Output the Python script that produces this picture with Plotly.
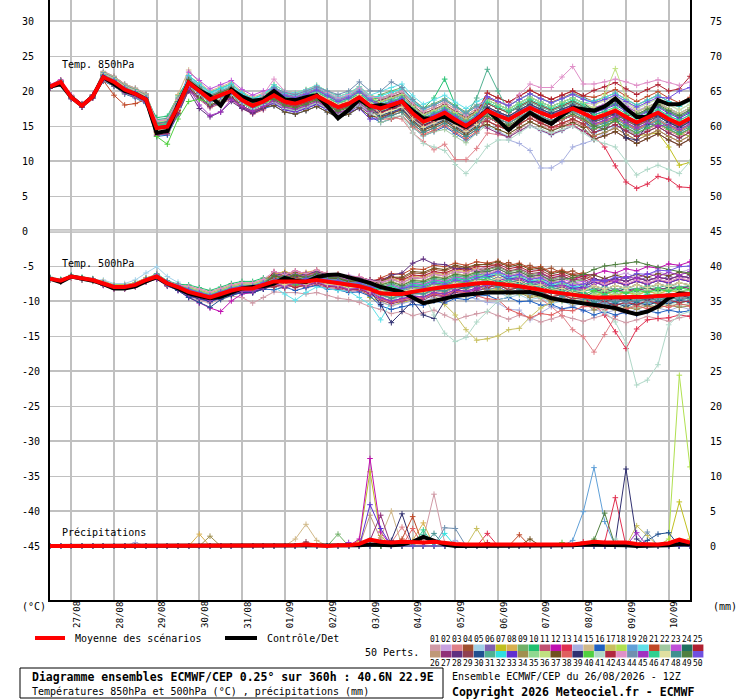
import plotly.graph_objects as go

# forecast steps, hours after 26/08 12Z
HOURS = list(range(0, 361, 6))

DAY_HOURS = [12, 36, 60, 84, 108, 132, 156, 180, 204, 228, 252, 276, 300, 324, 348]
DAY_LABELS = ["27/08", "28/08", "29/08", "30/08", "31/08", "01/09", "02/09", "03/09",
              "04/09", "05/09", "06/09", "07/09", "08/09", "09/09", "10/09"]

LEFT_TICKS = [30, 25, 20, 15, 10, 5, 0, -5, -10, -15, -20, -25, -30, -35, -40, -45]
RIGHT_LABELS = ["75", "70", "65", "60", "55", "50", "45", "40", "35", "30",
                "25", "20", "15", "10", "5", "0"]

PERT_COLORS = [
    "#d09aa6", "#c8a0e0", "#e08088", "#a05030", "#a0d0e8", "#8060b0", "#c0c020", "#d8b050",
    "#70b068", "#20c070", "#c05070", "#c010b0", "#e03050", "#a8b0e0", "#d0b888", "#2060c0",
    "#c8c060", "#b0e050", "#60a0d8", "#60e0e8", "#c04828", "#a0c8a0", "#c050d8", "#207060",
    "#b02030", "#c09878", "#903078", "#603080", "#904050", "#205090", "#50b090", "#30e0e0",
    "#6030d0", "#a09050", "#90d890", "#c0e080", "#705020", "#e06060", "#303070", "#50d040",
    "#b0d8c8", "#b02840", "#e090c8", "#7090b0", "#a030c0", "#30d090", "#e0e0a0", "#409090",
    "#508040", "#7050e0",
]

# all values below in tenths (degC for temperatures, mm for precipitation)
T850_MEAN = [206, 213, 191, 179, 192, 220, 213, 202, 196, 188, 147, 149, 178, 212, 200, 188, 194, 200, 187, 179, 185,
             194, 185, 182, 187, 193, 185, 177, 182, 191, 179, 175, 180, 185, 168, 156, 162, 169, 159, 150, 160,
             172, 165, 159, 168, 176, 169, 163, 169, 175, 168, 161, 166, 172, 163, 155, 162, 169, 160, 153, 161]
T850_CTL = [206, 210, 191, 179, 192, 220, 210, 200, 196, 188, 140, 143, 180, 212, 201, 193, 179, 202, 192, 186, 188,
            200, 188, 187, 191, 194, 178, 161, 173, 188, 178, 180, 178, 185, 172, 161, 160, 163, 155, 149, 160,
            173, 158, 144, 157, 169, 160, 153, 165, 176, 174, 172, 178, 189, 175, 163, 163, 187, 181, 181, 188]

T500_MEAN = [-68, -71, -65, -68, -70, -75, -80, -80, -77, -70, -65, -75, -80, -87, -91, -95, -90, -85, -82, -82, -77,
             -72, -72, -72, -72, -70, -72, -75, -76, -79, -83, -89, -90, -90, -87, -84, -82, -80, -78, -76, -75,
             -74, -75, -77, -79, -81, -84, -87, -89, -90, -93, -95, -95, -95, -95, -95, -94, -93, -92, -91, -90]
T500_CTL = [-68, -73, -65, -68, -71, -76, -82, -82, -79, -72, -66, -75, -82, -89, -93, -96, -94, -88, -82, -80, -79,
            -75, -67, -71, -73, -66, -63, -62, -66, -70, -74, -80, -84, -87, -95, -103, -100, -96, -93, -91, -89,
            -88, -88, -88, -87, -87, -91, -96, -99, -101, -103, -105, -107, -110, -115, -119, -115, -108, -96, -89, -90]

RR_MEAN = [0, 0, 0, 0, 0, 0, 0, 0, 0, 1, 1, 0, 0, 0, 1, 1, 0, 0, 0, 0, 0,
           1, 0, 1, 2, 1, 0, 1, 1, 3, 9, 6, 5, 6, 5, 5, 6, 4, 3, 2, 2,
           2, 1, 1, 2, 1, 1, 1, 1, 2, 4, 6, 5, 5, 5, 3, 2, 2, 4, 9, 5]
RR_CTL = [0, 0, 0, 0, 0, 0, 0, 0, 0, 0, 0, 0, 0, 0, 0, 0, 0, 0, 0, 0, 0,
          0, 0, 0, 0, 0, 0, 0, 0, 1, 2, 1, 1, 2, 6, 13, 8, 2, 0, 0, 0,
          0, 0, 0, 0, 0, 0, 0, 0, 1, 2, 2, 1, 1, 1, 0, 0, 0, 1, 3, 2]

T850_PERTS = [
    [208, 215, 193, 181, 194, 224, 218, 208, 202, 194, 148, 154, 188, 205, 192, 180, 186, 192, 178, 170, 176, 185, 176, 173, 179, 186, 179, 172, 178, 187, 175, 163, 166, 170, 152, 141, 148, 157, 150, 142, 153, 167, 162, 157, 167, 177, 171, 166, 174, 181, 175, 169, 175, 182, 174, 166, 174, 182, 174, 168, 176],
    [205, 212, 190, 178, 191, 217, 210, 199, 193, 185, 155, 157, 186, 222, 210, 198, 204, 210, 197, 189, 195, 199, 191, 189, 195, 202, 195, 188, 194, 204, 193, 188, 194, 200, 184, 173, 180, 188, 178, 170, 180, 187, 180, 174, 183, 191, 184, 178, 184, 190, 183, 181, 186, 191, 181, 172, 178, 184, 174, 166, 173],
    [206, 213, 191, 179, 192, 218, 211, 200, 194, 186, 142, 146, 170, 206, 195, 183, 189, 195, 182, 174, 180, 186, 178, 175, 180, 185, 176, 168, 172, 180, 166, 160, 162, 160, 140, 128, 116, 124, 102, 102, 118, 140, 138, 135, 146, 156, 150, 145, 151, 158, 150, 145, 150, 156, 147, 138, 145, 152, 143, 136, 144],
    [207, 214, 192, 180, 193, 215, 207, 196, 191, 183, 144, 146, 175, 215, 203, 191, 197, 203, 190, 182, 188, 204, 195, 192, 197, 203, 195, 187, 192, 201, 189, 180, 185, 190, 173, 161, 167, 174, 166, 158, 170, 190, 184, 179, 188, 196, 189, 184, 190, 197, 191, 185, 191, 197, 188, 180, 187, 194, 185, 178, 186],
    [204, 211, 189, 177, 190, 226, 219, 208, 202, 194, 159, 161, 190, 220, 208, 196, 202, 208, 195, 187, 193, 191, 182, 179, 184, 190, 182, 174, 179, 188, 176, 165, 170, 175, 158, 146, 152, 158, 146, 136, 146, 150, 142, 135, 143, 150, 143, 137, 143, 150, 143, 140, 145, 151, 143, 135, 142, 149, 140, 133, 141],
    [208, 215, 193, 181, 194, 228, 221, 210, 204, 196, 150, 152, 181, 204, 192, 180, 186, 192, 179, 171, 177, 182, 173, 170, 175, 181, 173, 165, 170, 179, 167, 170, 175, 180, 163, 151, 157, 164, 155, 146, 156, 177, 170, 164, 173, 181, 174, 168, 174, 180, 173, 156, 161, 167, 158, 150, 157, 164, 155, 148, 156],
    [206, 213, 191, 179, 192, 220, 213, 202, 196, 188, 139, 141, 170, 217, 205, 193, 199, 205, 192, 184, 190, 209, 200, 197, 202, 208, 200, 192, 197, 206, 194, 190, 195, 200, 183, 171, 177, 184, 174, 165, 175, 177, 170, 164, 173, 181, 174, 168, 174, 180, 173, 152, 155, 158, 146, 136, 138, 140, 120, 94, 98],
    [207, 214, 192, 180, 193, 225, 218, 207, 201, 193, 157, 159, 188, 215, 203, 191, 197, 203, 190, 182, 188, 189, 180, 177, 182, 188, 180, 172, 177, 186, 174, 165, 170, 175, 158, 146, 152, 159, 149, 140, 150, 182, 175, 169, 178, 186, 179, 173, 179, 185, 178, 163, 169, 175, 165, 156, 164, 172, 163, 155, 164],
    [205, 212, 190, 178, 191, 218, 211, 200, 194, 186, 152, 154, 183, 222, 210, 198, 204, 210, 197, 189, 195, 199, 190, 187, 192, 198, 190, 182, 187, 196, 184, 195, 200, 205, 188, 176, 182, 189, 179, 170, 180, 182, 175, 169, 178, 186, 179, 173, 179, 185, 178, 176, 181, 187, 178, 170, 177, 184, 175, 168, 176],
    [208, 215, 193, 181, 194, 220, 213, 202, 196, 188, 162, 164, 193, 217, 205, 193, 199, 205, 192, 184, 190, 204, 195, 192, 197, 203, 195, 187, 192, 201, 189, 190, 195, 200, 183, 175, 190, 217, 180, 165, 170, 162, 155, 149, 158, 166, 159, 153, 159, 165, 158, 156, 161, 167, 158, 150, 157, 164, 155, 148, 156],
    [204, 211, 189, 177, 190, 216, 209, 198, 192, 184, 137, 139, 168, 200, 188, 176, 182, 188, 175, 167, 173, 191, 182, 179, 184, 190, 182, 174, 179, 188, 176, 180, 185, 190, 173, 161, 167, 174, 164, 155, 165, 157, 150, 144, 153, 161, 154, 148, 154, 160, 153, 136, 141, 147, 138, 130, 137, 144, 135, 128, 136],
    [209, 216, 194, 182, 195, 223, 216, 205, 199, 191, 152, 154, 183, 212, 200, 188, 194, 200, 187, 179, 185, 189, 180, 177, 182, 188, 180, 172, 177, 184, 165, 160, 165, 170, 153, 141, 147, 154, 144, 135, 145, 177, 170, 164, 173, 181, 174, 168, 174, 180, 173, 171, 176, 182, 173, 165, 172, 179, 170, 163, 171],
    [206, 213, 191, 179, 192, 222, 215, 204, 198, 190, 142, 144, 173, 217, 205, 193, 199, 205, 192, 184, 190, 194, 185, 182, 187, 193, 185, 177, 182, 191, 179, 180, 185, 190, 173, 161, 167, 174, 164, 155, 165, 167, 160, 154, 163, 166, 155, 148, 150, 152, 142, 135, 120, 93, 70, 61, 67, 78, 74, 63, 62],
    [205, 212, 190, 178, 191, 219, 212, 201, 195, 187, 150, 152, 181, 209, 197, 185, 191, 197, 184, 176, 182, 199, 190, 187, 192, 198, 190, 182, 187, 196, 184, 170, 175, 180, 163, 151, 157, 164, 154, 145, 155, 160, 145, 130, 125, 115, 90, 90, 99, 120, 125, 130, 140, 150, 145, 138, 146, 154, 146, 139, 147],
    [208, 215, 193, 181, 194, 228, 221, 210, 204, 196, 157, 159, 195, 230, 212, 200, 206, 212, 199, 191, 197, 202, 193, 190, 195, 201, 193, 185, 190, 199, 187, 175, 180, 185, 168, 156, 162, 169, 159, 150, 160, 192, 185, 179, 188, 196, 189, 183, 189, 195, 188, 186, 191, 197, 188, 180, 187, 194, 185, 178, 186],
    [204, 211, 189, 177, 190, 214, 207, 196, 190, 182, 135, 137, 166, 202, 190, 178, 184, 190, 177, 169, 175, 179, 170, 167, 172, 178, 170, 162, 167, 176, 164, 155, 160, 165, 148, 136, 142, 149, 139, 130, 140, 162, 155, 149, 158, 166, 159, 153, 159, 165, 158, 141, 146, 152, 143, 135, 142, 149, 140, 133, 141],
    [207, 214, 192, 180, 193, 221, 214, 203, 197, 189, 147, 149, 178, 217, 205, 193, 199, 205, 192, 184, 190, 189, 180, 177, 182, 188, 180, 172, 177, 186, 174, 160, 165, 170, 153, 141, 147, 154, 144, 135, 145, 157, 150, 144, 153, 161, 154, 148, 154, 160, 153, 158, 164, 171, 160, 150, 158, 167, 157, 148, 156],
    [206, 213, 191, 179, 192, 223, 216, 205, 199, 191, 155, 157, 186, 209, 197, 185, 191, 197, 184, 176, 182, 206, 197, 194, 199, 205, 197, 189, 194, 203, 191, 185, 190, 195, 178, 166, 172, 179, 169, 160, 170, 187, 180, 174, 183, 191, 184, 178, 184, 190, 183, 171, 176, 182, 173, 165, 172, 179, 170, 140, 135],
    [205, 212, 190, 178, 191, 222, 215, 204, 198, 190, 144, 146, 175, 212, 200, 188, 194, 200, 187, 179, 185, 197, 188, 185, 190, 196, 188, 180, 185, 194, 182, 183, 188, 193, 176, 164, 170, 177, 167, 158, 168, 172, 165, 159, 168, 176, 169, 163, 169, 175, 160, 140, 150, 165, 160, 155, 164, 172, 164, 158, 166],
    [207, 214, 192, 180, 193, 217, 210, 199, 193, 185, 153, 155, 184, 220, 208, 196, 202, 208, 195, 187, 195, 209, 200, 197, 202, 208, 200, 192, 197, 206, 194, 200, 205, 210, 193, 181, 187, 194, 184, 175, 185, 192, 185, 179, 188, 196, 189, 183, 189, 196, 190, 183, 188, 193, 183, 175, 182, 189, 180, 173, 181],
    [206, 213, 191, 179, 192, 215, 194, 180, 182, 188, 142, 144, 173, 207, 195, 183, 189, 195, 182, 174, 180, 194, 185, 182, 187, 193, 185, 177, 182, 191, 179, 185, 190, 195, 178, 166, 172, 179, 169, 160, 170, 197, 190, 184, 193, 201, 194, 188, 194, 200, 193, 191, 196, 202, 193, 185, 192, 199, 190, 183, 191],
    [204, 211, 189, 177, 190, 215, 208, 197, 191, 183, 144, 146, 175, 207, 195, 183, 189, 195, 182, 174, 180, 184, 175, 172, 177, 183, 175, 167, 172, 181, 169, 155, 160, 165, 148, 136, 142, 145, 135, 126, 140, 152, 145, 139, 148, 156, 149, 143, 149, 155, 148, 151, 156, 162, 153, 145, 152, 159, 150, 143, 151],
    [207, 214, 192, 180, 193, 226, 219, 208, 202, 194, 147, 149, 178, 227, 215, 203, 209, 215, 202, 194, 200, 204, 195, 192, 197, 203, 195, 187, 192, 201, 189, 180, 185, 190, 173, 161, 167, 174, 164, 155, 165, 177, 170, 164, 173, 181, 174, 168, 174, 180, 173, 176, 181, 187, 178, 170, 177, 184, 175, 168, 176],
    [206, 213, 191, 179, 192, 216, 209, 198, 192, 184, 149, 151, 180, 207, 195, 183, 189, 195, 182, 174, 180, 199, 190, 187, 192, 198, 190, 182, 187, 196, 184, 170, 175, 180, 163, 151, 157, 164, 154, 145, 155, 187, 180, 174, 183, 191, 184, 178, 184, 190, 183, 171, 176, 182, 173, 165, 172, 179, 170, 163, 171],
    [208, 215, 193, 181, 194, 220, 213, 202, 196, 188, 145, 147, 176, 215, 203, 191, 197, 203, 190, 182, 188, 189, 180, 177, 182, 188, 180, 172, 177, 186, 174, 185, 190, 195, 178, 166, 172, 179, 169, 160, 170, 197, 190, 184, 193, 201, 194, 188, 194, 200, 193, 201, 206, 212, 203, 195, 202, 209, 200, 203, 221],
    [205, 212, 190, 178, 191, 224, 217, 206, 200, 192, 141, 143, 172, 210, 198, 186, 192, 198, 185, 177, 183, 186, 177, 174, 179, 185, 177, 169, 174, 183, 171, 163, 168, 173, 156, 144, 150, 157, 147, 138, 148, 167, 160, 154, 163, 171, 164, 158, 164, 170, 163, 151, 156, 162, 153, 145, 152, 159, 150, 143, 151],
    [207, 214, 192, 180, 193, 222, 215, 204, 198, 190, 137, 139, 168, 202, 190, 178, 184, 190, 177, 169, 175, 189, 180, 177, 182, 188, 180, 172, 177, 186, 174, 175, 180, 185, 168, 156, 162, 169, 159, 150, 160, 147, 140, 134, 143, 151, 144, 138, 144, 150, 143, 131, 136, 142, 133, 125, 132, 139, 130, 123, 131],
    [205, 212, 190, 178, 191, 221, 214, 203, 197, 189, 151, 153, 182, 200, 175, 163, 170, 185, 175, 168, 175, 184, 175, 172, 177, 183, 175, 167, 172, 181, 169, 170, 175, 180, 163, 151, 157, 164, 154, 145, 155, 162, 155, 149, 158, 166, 159, 153, 159, 165, 158, 146, 151, 157, 148, 140, 147, 154, 145, 138, 146],
    [207, 214, 192, 180, 193, 223, 216, 205, 199, 191, 148, 150, 179, 214, 202, 190, 196, 202, 189, 181, 187, 197, 188, 185, 190, 196, 188, 180, 185, 194, 182, 187, 192, 197, 180, 168, 174, 181, 171, 162, 172, 182, 175, 169, 178, 186, 179, 173, 179, 185, 178, 156, 161, 167, 158, 150, 157, 164, 155, 148, 156],
    [205, 212, 190, 178, 191, 217, 210, 199, 193, 185, 150, 152, 181, 214, 202, 190, 196, 202, 189, 181, 187, 192, 183, 180, 185, 191, 183, 175, 180, 189, 177, 165, 170, 175, 158, 146, 152, 159, 149, 140, 150, 167, 160, 154, 163, 171, 164, 158, 164, 170, 163, 158, 163, 169, 160, 152, 159, 166, 157, 150, 158],
    [208, 215, 193, 181, 194, 226, 219, 208, 202, 194, 159, 161, 190, 218, 206, 194, 200, 206, 193, 185, 191, 202, 193, 190, 195, 201, 193, 185, 190, 199, 187, 185, 190, 195, 178, 166, 172, 179, 169, 165, 190, 231, 200, 170, 176, 184, 177, 171, 177, 183, 176, 171, 176, 182, 173, 165, 172, 179, 170, 163, 171],
    [206, 213, 191, 179, 192, 222, 215, 204, 198, 190, 152, 154, 183, 222, 210, 198, 204, 210, 197, 189, 195, 206, 197, 194, 199, 205, 197, 189, 194, 203, 191, 193, 198, 203, 186, 174, 180, 187, 177, 168, 178, 187, 180, 174, 183, 191, 184, 178, 184, 190, 183, 186, 191, 197, 188, 180, 187, 194, 185, 178, 186],
    [204, 211, 189, 177, 190, 217, 210, 199, 193, 185, 144, 146, 175, 209, 197, 185, 191, 197, 184, 176, 182, 182, 173, 170, 175, 181, 173, 165, 170, 175, 160, 160, 168, 175, 160, 148, 154, 161, 151, 142, 152, 175, 168, 162, 171, 179, 172, 166, 172, 178, 171, 169, 174, 180, 171, 163, 170, 177, 168, 161, 169],
    [207, 214, 192, 180, 193, 219, 212, 201, 195, 187, 151, 153, 182, 208, 196, 184, 190, 196, 183, 175, 181, 196, 187, 184, 189, 195, 187, 179, 184, 193, 181, 172, 177, 182, 165, 153, 159, 166, 156, 147, 157, 157, 150, 144, 153, 161, 154, 148, 154, 160, 153, 136, 141, 147, 138, 130, 137, 144, 135, 128, 136],
    [205, 212, 190, 178, 191, 221, 214, 203, 197, 189, 145, 147, 176, 218, 206, 194, 200, 206, 193, 185, 191, 200, 191, 188, 193, 199, 191, 183, 188, 197, 185, 173, 178, 183, 166, 154, 160, 167, 157, 148, 158, 177, 170, 164, 173, 181, 174, 168, 174, 180, 173, 151, 156, 162, 153, 145, 152, 159, 150, 143, 151],
    [207, 214, 192, 180, 193, 225, 218, 207, 201, 193, 155, 157, 186, 215, 203, 191, 197, 203, 190, 182, 188, 189, 180, 177, 182, 188, 180, 172, 177, 186, 174, 185, 190, 195, 178, 166, 172, 179, 169, 160, 170, 187, 180, 174, 183, 191, 184, 178, 184, 190, 183, 176, 195, 232, 190, 170, 177, 184, 175, 168, 176],
    [206, 213, 191, 179, 192, 218, 211, 200, 194, 186, 142, 144, 173, 204, 192, 180, 186, 192, 179, 171, 177, 179, 170, 167, 172, 178, 170, 162, 167, 176, 164, 163, 168, 173, 156, 144, 150, 157, 147, 138, 148, 152, 145, 139, 148, 156, 149, 143, 149, 155, 148, 131, 136, 142, 133, 125, 132, 139, 130, 123, 131],
    [207, 214, 192, 180, 193, 222, 215, 204, 198, 190, 153, 155, 184, 213, 201, 189, 195, 201, 188, 180, 186, 195, 186, 183, 188, 194, 186, 178, 183, 192, 178, 160, 160, 165, 150, 138, 144, 151, 141, 132, 142, 162, 155, 149, 158, 166, 159, 153, 159, 165, 158, 151, 156, 162, 153, 145, 152, 159, 150, 143, 151],
    [205, 212, 190, 178, 191, 218, 211, 200, 194, 186, 149, 151, 180, 207, 195, 183, 189, 195, 182, 174, 180, 194, 185, 182, 187, 193, 185, 177, 182, 191, 179, 170, 175, 175, 160, 151, 157, 164, 154, 145, 155, 177, 170, 164, 173, 181, 174, 168, 174, 180, 173, 166, 171, 165, 133, 130, 152, 164, 155, 148, 156],
    [206, 213, 191, 179, 192, 217, 210, 199, 193, 185, 135, 124, 160, 185, 188, 183, 190, 196, 183, 175, 181, 189, 180, 177, 182, 188, 180, 172, 177, 186, 174, 180, 185, 190, 173, 161, 167, 174, 164, 155, 165, 167, 160, 154, 163, 171, 164, 158, 164, 170, 163, 146, 151, 157, 148, 140, 147, 154, 145, 138, 146],
    [207, 214, 192, 180, 193, 221, 214, 203, 197, 189, 144, 146, 175, 207, 195, 183, 189, 195, 182, 174, 180, 184, 175, 172, 177, 183, 175, 167, 172, 181, 169, 160, 163, 165, 140, 125, 120, 115, 95, 82, 100, 121, 130, 130, 140, 150, 145, 140, 145, 150, 140, 130, 125, 120, 100, 80, 88, 94, 88, 82, 99],
    [204, 211, 189, 177, 190, 217, 210, 199, 193, 185, 141, 143, 172, 216, 204, 192, 198, 204, 191, 183, 189, 190, 181, 178, 183, 189, 181, 173, 178, 187, 175, 169, 174, 179, 162, 150, 156, 163, 153, 144, 154, 157, 150, 144, 153, 161, 154, 148, 154, 160, 153, 141, 146, 152, 143, 135, 142, 149, 140, 133, 141],
    [208, 215, 193, 181, 194, 224, 217, 206, 200, 192, 157, 159, 188, 214, 202, 190, 196, 202, 189, 181, 195, 217, 200, 195, 200, 206, 198, 190, 195, 204, 192, 190, 195, 200, 183, 171, 177, 184, 174, 165, 175, 192, 185, 180, 195, 210, 205, 205, 220, 235, 210, 210, 213, 217, 213, 208, 212, 216, 212, 208, 213],
    [206, 213, 191, 179, 192, 222, 215, 204, 198, 190, 150, 152, 181, 218, 206, 194, 200, 206, 193, 185, 191, 205, 198, 195, 200, 206, 200, 195, 200, 213, 200, 200, 213, 205, 188, 175, 180, 187, 177, 168, 178, 167, 160, 154, 163, 171, 164, 158, 164, 170, 163, 153, 158, 164, 155, 147, 154, 161, 152, 145, 153],
    [207, 214, 192, 180, 193, 216, 209, 198, 192, 184, 148, 150, 179, 205, 180, 165, 170, 188, 178, 171, 178, 186, 177, 174, 179, 185, 177, 169, 174, 183, 171, 178, 183, 188, 171, 159, 165, 172, 162, 153, 163, 172, 165, 159, 168, 176, 169, 163, 169, 175, 168, 153, 158, 164, 155, 147, 154, 150, 152, 145, 153],
    [206, 213, 191, 179, 192, 223, 216, 205, 199, 191, 151, 153, 182, 213, 201, 189, 195, 201, 188, 180, 186, 200, 191, 188, 193, 199, 191, 183, 188, 197, 185, 181, 186, 191, 174, 162, 168, 175, 165, 156, 166, 184, 177, 171, 180, 188, 181, 175, 181, 187, 180, 166, 171, 177, 168, 160, 167, 174, 165, 158, 166],
    [205, 212, 190, 178, 191, 219, 212, 201, 195, 187, 143, 145, 174, 211, 199, 187, 193, 199, 186, 178, 184, 198, 189, 186, 191, 197, 189, 181, 186, 195, 183, 167, 172, 177, 160, 148, 154, 161, 151, 142, 152, 164, 157, 151, 160, 168, 161, 155, 161, 167, 160, 181, 186, 192, 183, 175, 182, 189, 180, 173, 181],
    [207, 214, 192, 180, 193, 219, 212, 201, 195, 187, 154, 156, 185, 210, 198, 186, 192, 198, 185, 177, 183, 192, 183, 180, 185, 191, 183, 175, 180, 189, 177, 160, 165, 170, 153, 141, 147, 154, 144, 135, 145, 174, 167, 161, 170, 178, 171, 165, 171, 177, 170, 149, 154, 160, 151, 143, 150, 157, 148, 141, 149],
    [206, 213, 191, 179, 192, 220, 213, 202, 196, 188, 146, 148, 177, 216, 204, 192, 198, 204, 191, 183, 189, 188, 179, 176, 181, 187, 179, 171, 176, 185, 173, 177, 182, 187, 170, 158, 164, 171, 161, 152, 162, 164, 157, 151, 160, 168, 161, 155, 161, 167, 160, 150, 145, 160, 165, 167, 174, 181, 172, 165, 173],
    [205, 212, 190, 178, 191, 222, 215, 204, 198, 190, 146, 148, 177, 210, 198, 186, 192, 198, 185, 177, 183, 202, 193, 190, 195, 201, 193, 185, 190, 199, 187, 179, 184, 189, 172, 160, 166, 173, 163, 154, 164, 192, 185, 179, 188, 196, 189, 183, 189, 195, 188, 183, 188, 194, 185, 177, 184, 191, 190, 200, 205],
]

T500_PERTS = [
    [-68, -71, -65, -68, -70, -77, -82, -82, -79, -72, -68, -78, -83, -95, -99, -103, -98, -93, -95, -103, -95, -87, -88, -88, -90, -88, -92, -96, -98, -102, -108, -112, -118, -115, -121, -117, -113, -120, -127, -122, -118, -115, -121, -126, -120, -124, -130, -126, -121, -125, -129, -124, -120, -126, -131, -127, -122, -125, -129, -124, -121],
    [-67, -70, -64, -67, -69, -73, -78, -78, -75, -68, -62, -72, -77, -82, -86, -90, -85, -80, -77, -77, -72, -66, -61, -65, -60, -63, -62, -67, -63, -66, -70, -74, -70, -66, -69, -63, -58, -61, -55, -52, -56, -50, -53, -49, -55, -58, -54, -60, -65, -61, -66, -63, -68, -64, -60, -66, -62, -58, -63, -59, -55],
    [-69, -72, -66, -69, -71, -75, -80, -80, -77, -70, -63, -73, -78, -90, -94, -98, -93, -88, -85, -85, -80, -72, -68, -73, -69, -66, -71, -72, -76, -75, -81, -85, -90, -86, -83, -87, -79, -76, -80, -73, -75, -72, -78, -82, -80, -89, -97, -108, -121, -141, -151, -173, -148, -122, -112, -104, -108, -100, -103, -97, -101],
    [-67, -70, -64, -67, -69, -72, -77, -77, -74, -67, -63, -73, -78, -81, -85, -89, -84, -79, -76, -76, -71, -60, -64, -59, -63, -58, -63, -62, -67, -66, -70, -72, -66, -68, -60, -61, -55, -57, -51, -54, -49, -47, -50, -45, -52, -49, -56, -53, -60, -57, -64, -69, -74, -70, -77, -72, -76, -70, -74, -68, -72],
    [-68, -71, -65, -68, -70, -70, -75, -75, -70, -60, -51, -65, -73, -82, -86, -90, -85, -80, -77, -77, -72, -74, -70, -75, -71, -68, -73, -74, -78, -77, -83, -95, -102, -98, -94, -99, -90, -93, -86, -89, -82, -90, -87, -95, -91, -98, -95, -104, -100, -107, -103, -108, -102, -107, -100, -106, -101, -105, -99, -104, -98],
    [-69, -72, -66, -69, -71, -76, -81, -81, -78, -71, -65, -75, -80, -84, -88, -92, -87, -82, -79, -79, -74, -65, -69, -64, -68, -63, -68, -69, -73, -72, -78, -81, -77, -82, -75, -77, -70, -73, -66, -69, -63, -61, -57, -64, -60, -68, -65, -70, -76, -72, -79, -73, -68, -72, -67, -71, -66, -70, -65, -68, -63],
    [-67, -70, -64, -67, -69, -75, -80, -80, -77, -70, -67, -77, -82, -89, -93, -97, -92, -87, -84, -84, -79, -79, -75, -80, -76, -73, -78, -79, -83, -82, -95, -101, -107, -102, -99, -103, -95, -98, -91, -94, -88, -86, -82, -89, -86, -93, -90, -99, -96, -102, -99, -93, -88, -92, -87, -91, -86, -90, -84, -88, -83],
    [-68, -71, -65, -68, -70, -73, -78, -78, -75, -68, -62, -72, -77, -79, -83, -87, -82, -77, -74, -74, -69, -62, -58, -63, -59, -56, -61, -62, -66, -65, -71, -72, -68, -71, -65, -66, -60, -62, -56, -58, -53, -62, -67, -64, -70, -68, -75, -72, -80, -77, -84, -79, -83, -78, -82, -77, -81, -76, -79, -74, -77],
    [-69, -72, -66, -69, -71, -77, -82, -82, -79, -72, -66, -76, -81, -92, -96, -100, -95, -90, -87, -87, -82, -67, -71, -66, -70, -65, -70, -71, -75, -74, -80, -76, -72, -77, -70, -71, -65, -67, -61, -63, -58, -55, -52, -58, -56, -63, -60, -69, -66, -72, -70, -82, -87, -83, -88, -84, -80, -85, -81, -83, -78],
    [-66, -69, -63, -66, -68, -74, -79, -79, -76, -69, -61, -71, -76, -77, -81, -85, -80, -75, -72, -72, -67, -68, -64, -69, -65, -62, -67, -68, -72, -71, -77, -86, -82, -87, -80, -81, -75, -78, -71, -74, -68, -72, -78, -75, -81, -80, -86, -85, -89, -88, -93, -106, -101, -106, -102, -106, -101, -104, -99, -103, -99],
    [-70, -73, -67, -70, -72, -78, -83, -83, -80, -73, -69, -79, -84, -93, -97, -101, -96, -91, -88, -88, -83, -78, -82, -77, -81, -76, -81, -82, -86, -85, -91, -82, -87, -83, -80, -81, -75, -78, -71, -73, -68, -71, -67, -74, -71, -78, -75, -84, -81, -87, -85, -97, -102, -98, -103, -99, -95, -100, -95, -98, -93],
    [-67, -70, -64, -67, -69, -74, -79, -79, -76, -69, -67, -77, -85, -95, -103, -110, -115, -100, -90, -88, -80, -71, -67, -72, -68, -65, -70, -71, -75, -74, -85, -96, -102, -98, -95, -96, -90, -93, -86, -88, -83, -79, -74, -71, -64, -66, -61, -67, -64, -70, -64, -62, -57, -60, -54, -57, -51, -53, -47, -49, -44],
    [-68, -71, -65, -68, -70, -75, -80, -80, -77, -70, -65, -75, -80, -85, -89, -93, -88, -83, -80, -80, -75, -73, -77, -72, -76, -71, -76, -77, -81, -80, -86, -92, -97, -93, -90, -91, -85, -88, -81, -83, -78, -84, -80, -87, -84, -91, -88, -97, -94, -100, -98, -105, -120, -144, -168, -140, -127, -125, -124, -120, -122],
    [-67, -70, -64, -67, -69, -73, -78, -78, -75, -68, -64, -74, -79, -90, -94, -98, -93, -88, -85, -85, -80, -80, -76, -81, -77, -74, -79, -80, -84, -83, -89, -102, -107, -103, -100, -101, -95, -98, -91, -93, -97, -102, -103, -112, -113, -127, -117, -108, -112, -107, -115, -112, -117, -113, -118, -112, -116, -110, -114, -108, -112],
    [-68, -71, -65, -68, -70, -74, -79, -79, -76, -69, -63, -73, -78, -87, -91, -95, -90, -85, -82, -82, -77, -65, -69, -64, -68, -63, -68, -69, -73, -72, -78, -76, -72, -77, -70, -71, -65, -67, -61, -63, -58, -61, -57, -64, -61, -68, -65, -74, -71, -77, -75, -72, -77, -73, -78, -72, -76, -70, -74, -68, -72],
    [-69, -72, -66, -69, -71, -77, -82, -82, -79, -72, -68, -78, -83, -93, -97, -101, -96, -91, -88, -88, -83, -84, -80, -85, -81, -78, -83, -84, -88, -87, -93, -107, -112, -108, -105, -106, -100, -103, -96, -98, -93, -92, -98, -95, -101, -100, -106, -105, -111, -109, -113, -120, -115, -120, -116, -119, -114, -117, -113, -116, -114],
    [-68, -71, -65, -68, -70, -76, -81, -81, -78, -71, -66, -76, -81, -83, -87, -91, -86, -81, -78, -78, -73, -68, -72, -67, -71, -66, -71, -72, -76, -75, -81, -85, -90, -86, -83, -84, -92, -105, -120, -141, -156, -154, -150, -141, -139, -123, -110, -102, -93, -96, -90, -92, -87, -93, -88, -92, -86, -90, -85, -88, -83],
    [-67, -70, -64, -67, -69, -72, -77, -77, -74, -67, -62, -72, -77, -81, -85, -89, -84, -79, -76, -76, -71, -64, -60, -65, -61, -58, -63, -64, -68, -67, -73, -79, -75, -80, -73, -74, -68, -70, -64, -66, -61, -66, -62, -69, -66, -73, -70, -79, -76, -82, -80, -86, -92, -93, -99, -97, -101, -96, -99, -94, -97],
    [-69, -72, -66, -69, -71, -75, -80, -80, -77, -70, -66, -76, -81, -91, -95, -99, -94, -89, -86, -86, -81, -72, -76, -71, -75, -70, -75, -76, -80, -79, -85, -79, -84, -80, -77, -78, -72, -74, -68, -70, -65, -71, -67, -74, -71, -78, -75, -84, -81, -87, -88, -100, -105, -101, -106, -100, -104, -99, -102, -97, -100],
    [-67, -70, -64, -67, -69, -76, -81, -81, -78, -71, -63, -73, -78, -89, -93, -97, -92, -87, -84, -84, -79, -80, -90, -99, -88, -80, -82, -85, -86, -95, -105, -127, -100, -92, -83, -82, -75, -77, -71, -73, -68, -66, -62, -69, -66, -73, -70, -79, -76, -82, -80, -78, -83, -78, -82, -77, -81, -76, -79, -74, -77],
    [-69, -72, -66, -69, -71, -77, -82, -82, -79, -72, -66, -76, -81, -85, -89, -93, -88, -83, -80, -80, -75, -66, -62, -67, -63, -60, -65, -66, -70, -69, -75, -67, -61, -62, -54, -55, -49, -51, -46, -49, -44, -46, -43, -49, -46, -53, -51, -59, -56, -62, -60, -68, -72, -68, -72, -67, -71, -66, -69, -64, -67],
    [-68, -71, -65, -68, -70, -75, -80, -80, -77, -70, -64, -74, -79, -82, -86, -90, -85, -80, -77, -77, -72, -70, -74, -69, -73, -68, -73, -74, -78, -77, -83, -92, -97, -93, -90, -91, -85, -87, -81, -83, -78, -82, -88, -85, -91, -90, -96, -95, -101, -99, -103, -110, -105, -110, -106, -110, -105, -108, -103, -106, -104],
    [-67, -70, -64, -67, -69, -73, -78, -78, -75, -68, -63, -73, -78, -84, -88, -92, -87, -82, -79, -79, -74, -62, -66, -61, -65, -60, -65, -66, -70, -69, -75, -81, -77, -82, -75, -76, -70, -72, -66, -68, -63, -58, -54, -61, -58, -65, -63, -71, -68, -74, -72, -68, -73, -68, -72, -67, -71, -66, -69, -64, -67],
    [-69, -72, -66, -69, -71, -76, -81, -81, -78, -71, -67, -77, -82, -89, -93, -97, -92, -87, -84, -84, -79, -69, -65, -70, -66, -63, -68, -69, -73, -72, -78, -87, -92, -88, -85, -86, -80, -82, -76, -78, -73, -81, -77, -84, -81, -88, -86, -94, -91, -97, -95, -87, -82, -87, -82, -86, -81, -85, -80, -83, -78],
    [-68, -71, -65, -68, -70, -74, -79, -79, -76, -69, -65, -75, -80, -86, -90, -94, -89, -84, -81, -81, -76, -58, -62, -57, -61, -56, -61, -62, -66, -65, -71, -69, -65, -70, -63, -64, -58, -60, -54, -56, -51, -51, -47, -54, -51, -58, -56, -64, -61, -67, -65, -73, -78, -73, -77, -72, -76, -71, -74, -69, -72],
    [-67, -70, -64, -67, -69, -74, -79, -79, -76, -69, -67, -77, -82, -91, -95, -99, -94, -89, -86, -86, -81, -78, -74, -79, -75, -72, -77, -78, -82, -81, -87, -89, -85, -90, -83, -84, -78, -80, -74, -76, -71, -75, -81, -78, -84, -83, -89, -88, -94, -92, -96, -95, -100, -95, -99, -94, -98, -93, -96, -91, -94],
    [-68, -71, -65, -68, -70, -76, -81, -81, -78, -71, -64, -74, -79, -87, -91, -95, -90, -85, -82, -82, -77, -76, -80, -75, -79, -74, -79, -80, -84, -83, -89, -99, -104, -100, -97, -98, -92, -94, -88, -90, -85, -82, -72, -74, -71, -78, -76, -84, -81, -87, -85, -83, -88, -83, -87, -82, -86, -81, -84, -79, -82],
    [-69, -72, -66, -69, -71, -74, -79, -79, -76, -69, -62, -72, -77, -85, -89, -93, -88, -83, -80, -80, -75, -64, -60, -65, -61, -58, -63, -64, -68, -67, -70, -72, -63, -60, -46, -40, -47, -48, -54, -53, -58, -57, -62, -60, -66, -64, -71, -70, -76, -73, -80, -68, -72, -68, -72, -67, -71, -66, -69, -64, -67],
    [-68, -71, -65, -68, -70, -75, -80, -80, -77, -70, -65, -75, -80, -88, -92, -96, -91, -86, -83, -83, -78, -68, -72, -67, -71, -66, -71, -72, -76, -75, -81, -73, -69, -74, -67, -68, -62, -64, -58, -60, -55, -54, -50, -57, -54, -61, -59, -67, -64, -70, -68, -78, -83, -78, -82, -77, -81, -76, -79, -74, -77],
    [-67, -70, -64, -67, -69, -76, -81, -81, -78, -71, -68, -78, -85, -95, -102, -109, -98, -92, -88, -88, -83, -77, -73, -78, -74, -71, -76, -77, -81, -80, -86, -95, -100, -96, -93, -94, -88, -90, -84, -86, -81, -76, -72, -79, -76, -83, -81, -89, -86, -92, -90, -102, -107, -103, -108, -102, -106, -101, -104, -99, -102],
    [-68, -71, -65, -68, -70, -73, -78, -78, -75, -68, -63, -73, -78, -83, -87, -91, -86, -81, -78, -78, -73, -64, -68, -63, -67, -62, -67, -68, -72, -71, -77, -79, -75, -80, -73, -74, -68, -70, -64, -66, -61, -64, -70, -67, -73, -72, -78, -77, -83, -81, -85, -84, -79, -84, -80, -83, -78, -81, -77, -80, -78],
    [-67, -70, -64, -67, -69, -75, -80, -80, -77, -70, -64, -74, -79, -84, -88, -92, -87, -82, -79, -79, -74, -70, -66, -71, -67, -64, -69, -70, -74, -73, -79, -83, -79, -84, -77, -78, -72, -74, -68, -70, -65, -64, -60, -67, -64, -71, -69, -77, -74, -80, -78, -85, -90, -85, -89, -84, -88, -83, -86, -81, -84],
    [-69, -72, -66, -69, -71, -77, -82, -82, -79, -72, -68, -78, -83, -92, -96, -100, -95, -90, -87, -87, -82, -72, -76, -71, -75, -70, -75, -76, -80, -79, -85, -90, -95, -91, -88, -89, -83, -85, -79, -81, -76, -66, -62, -69, -66, -73, -71, -79, -76, -82, -80, -73, -78, -73, -77, -72, -76, -71, -74, -69, -72],
    [-68, -71, -65, -68, -70, -76, -81, -81, -78, -71, -67, -77, -82, -86, -90, -94, -89, -84, -81, -81, -76, -78, -74, -79, -75, -72, -77, -78, -82, -81, -87, -89, -94, -90, -87, -88, -82, -84, -78, -80, -75, -88, -84, -91, -88, -95, -93, -101, -98, -104, -102, -113, -108, -113, -109, -112, -107, -110, -106, -109, -107],
    [-67, -70, -64, -67, -69, -74, -79, -79, -76, -69, -65, -75, -80, -89, -93, -97, -92, -87, -84, -84, -79, -70, -74, -69, -73, -68, -73, -74, -78, -77, -83, -86, -82, -87, -80, -81, -75, -77, -71, -73, -68, -57, -63, -60, -66, -65, -71, -70, -76, -74, -78, -90, -85, -90, -86, -89, -84, -87, -83, -86, -84],
    [-68, -71, -65, -68, -70, -73, -78, -78, -75, -68, -64, -74, -79, -85, -89, -93, -88, -83, -80, -80, -75, -71, -67, -72, -68, -65, -70, -71, -75, -74, -80, -89, -94, -90, -87, -88, -82, -84, -78, -80, -75, -80, -86, -83, -89, -88, -94, -93, -99, -97, -101, -91, -96, -91, -95, -90, -94, -89, -92, -87, -90],
    [-69, -72, -66, -69, -71, -75, -80, -80, -77, -70, -66, -76, -81, -87, -91, -95, -90, -85, -82, -82, -77, -64, -68, -63, -67, -62, -67, -68, -72, -71, -77, -72, -66, -66, -58, -59, -53, -55, -49, -52, -48, -48, -44, -51, -48, -55, -53, -61, -58, -64, -62, -63, -68, -63, -67, -62, -66, -61, -64, -59, -62],
    [-68, -71, -65, -68, -70, -74, -79, -79, -76, -69, -64, -74, -79, -88, -92, -96, -91, -86, -83, -83, -78, -79, -75, -80, -76, -73, -78, -79, -83, -82, -88, -97, -102, -98, -95, -96, -90, -92, -86, -88, -92, -97, -98, -112, -118, -124, -118, -120, -113, -114, -108, -108, -113, -108, -112, -107, -111, -106, -109, -104, -107],
    [-68, -71, -65, -68, -70, -76, -81, -81, -78, -71, -66, -76, -81, -92, -96, -100, -95, -90, -87, -87, -82, -73, -77, -72, -76, -71, -76, -77, -81, -80, -86, -105, -131, -115, -100, -120, -125, -100, -85, -80, -78, -73, -69, -76, -73, -80, -78, -86, -83, -89, -87, -96, -101, -96, -100, -95, -99, -94, -97, -92, -95],
    [-69, -72, -66, -69, -71, -75, -80, -80, -77, -70, -65, -75, -80, -85, -89, -93, -88, -83, -80, -80, -75, -76, -72, -77, -73, -70, -75, -76, -80, -79, -85, -87, -83, -88, -81, -82, -76, -78, -72, -74, -69, -70, -76, -73, -79, -78, -84, -83, -89, -87, -91, -85, -90, -85, -89, -84, -88, -83, -86, -81, -84],
    [-67, -70, -64, -67, -69, -75, -80, -80, -77, -70, -66, -76, -81, -90, -94, -98, -93, -88, -85, -85, -80, -75, -79, -74, -78, -73, -78, -79, -83, -82, -88, -94, -95, -95, -92, -90, -120, -146, -158, -152, -130, -115, -100, -93, -86, -90, -85, -94, -90, -97, -95, -105, -115, -130, -160, -220, -213, -191, -134, -120, -115],
    [-68, -71, -65, -68, -70, -76, -81, -81, -78, -71, -67, -77, -82, -90, -94, -98, -93, -88, -85, -85, -80, -80, -76, -81, -77, -74, -79, -80, -84, -83, -89, -85, -90, -86, -83, -84, -78, -80, -74, -76, -71, -81, -77, -84, -81, -88, -86, -94, -91, -97, -95, -106, -101, -106, -102, -105, -100, -103, -99, -102, -100],
    [-67, -70, -64, -67, -69, -73, -78, -78, -75, -68, -62, -72, -77, -79, -83, -87, -82, -77, -74, -74, -69, -58, -62, -57, -61, -56, -61, -62, -66, -65, -71, -73, -69, -74, -67, -68, -62, -64, -58, -60, -55, -61, -57, -64, -61, -68, -66, -74, -71, -77, -75, -71, -76, -71, -75, -70, -74, -69, -72, -67, -70],
    [-69, -72, -66, -69, -71, -74, -79, -79, -76, -69, -66, -76, -81, -89, -93, -97, -92, -87, -84, -84, -79, -70, -66, -71, -67, -64, -69, -70, -74, -73, -79, -84, -89, -85, -82, -83, -77, -79, -73, -75, -70, -84, -80, -87, -84, -91, -89, -97, -94, -100, -98, -98, -103, -98, -102, -97, -101, -96, -99, -94, -97],
    [-68, -71, -65, -68, -70, -77, -82, -82, -79, -72, -67, -77, -82, -91, -95, -99, -94, -89, -86, -86, -81, -75, -79, -74, -78, -73, -78, -79, -83, -82, -88, -95, -100, -96, -93, -94, -88, -90, -84, -86, -81, -77, -68, -71, -68, -75, -73, -81, -78, -84, -82, -77, -70, -72, -65, -68, -61, -65, -59, -63, -58],
    [-67, -70, -64, -67, -69, -74, -79, -79, -76, -69, -63, -73, -78, -86, -90, -94, -89, -84, -81, -81, -76, -72, -68, -73, -69, -66, -71, -72, -76, -75, -81, -83, -79, -84, -77, -78, -72, -74, -68, -70, -65, -67, -73, -70, -76, -75, -81, -80, -86, -84, -88, -96, -91, -96, -92, -95, -90, -93, -89, -92, -90],
    [-69, -72, -66, -69, -71, -76, -81, -81, -78, -71, -65, -75, -80, -86, -90, -94, -89, -84, -81, -81, -76, -73, -77, -72, -76, -71, -76, -77, -81, -80, -86, -85, -90, -86, -83, -84, -78, -80, -74, -76, -71, -72, -68, -75, -72, -79, -77, -85, -82, -88, -86, -78, -83, -78, -82, -77, -81, -76, -79, -74, -77],
    [-68, -71, -65, -68, -70, -75, -80, -80, -77, -70, -66, -76, -81, -88, -92, -96, -91, -86, -83, -83, -78, -73, -69, -74, -70, -67, -72, -73, -77, -76, -82, -91, -96, -92, -89, -90, -84, -86, -80, -82, -77, -74, -80, -77, -83, -82, -88, -87, -93, -91, -95, -102, -97, -102, -98, -101, -96, -99, -95, -98, -96],
    [-67, -70, -64, -67, -69, -75, -80, -80, -77, -70, -64, -74, -79, -86, -90, -94, -89, -84, -81, -81, -76, -63, -67, -62, -66, -61, -66, -67, -71, -70, -76, -77, -73, -78, -71, -72, -66, -68, -62, -64, -59, -58, -54, -61, -58, -65, -63, -71, -69, -67, -62, -55, -50, -48, -46, -44, -48, -52, -55, -58, -60],
    [-68, -71, -65, -68, -70, -75, -80, -80, -77, -70, -63, -73, -78, -84, -88, -92, -87, -82, -79, -79, -74, -71, -67, -72, -68, -65, -70, -71, -75, -74, -80, -81, -85, -82, -79, -80, -74, -76, -70, -72, -67, -62, -58, -65, -62, -69, -67, -75, -72, -78, -76, -70, -72, -66, -67, -61, -62, -56, -57, -51, -50],
]

# precipitation peaks per perturbation: {member: {step index: tenths of mm}}, zero elsewhere
RR_PEAKS = {
    1: {35: 10, 36: 74, 37: 5},
    3: {32: 5, 33: 27},
    7: {29: 8, 30: 106, 31: 15, 58: 5, 59: 63, 60: 10},
    8: {14: 17, 34: 8, 35: 33},
    9: {27: 17, 51: 10},
    12: {29: 10, 30: 125, 31: 20},
    13: {41: 18, 50: 6, 52: 5, 53: 69},
    14: {8: 5, 38: 8},
    15: {23: 10, 24: 31, 25: 8, 31: 12, 32: 50},
    17: {40: 25, 55: 29, 56: 15},
    18: {58: 10, 59: 244, 60: 113},
    19: {49: 8, 50: 49, 51: 112, 52: 35},
    20: {30: 10, 35: 16},
    21: {33: 10, 34: 42, 44: 16},
    24: {24: 3},
    26: {30: 44, 31: 10},
    27: {30: 8, 31: 44},
    29: {24: 6},
    30: {56: 8, 57: 17, 58: 19},
    31: {35: 16},
    32: {37: 18},
    33: {30: 59, 31: 25},
    34: {15: 14},
    37: {45: 10},
    38: {34: 25},
    39: {32: 8, 33: 46, 53: 6, 54: 110, 55: 10},
    40: {48: 5},
    41: {53: 10},
    42: {41: 5},
    44: {37: 26, 38: 25, 56: 20},
    45: {28: 5, 55: 19},
    46: {35: 23},
    48: {36: 18},
    49: {51: 8, 52: 47},
    50: {31: 6},
}

RR_BASE = -45  # precipitation 0 mm sits on the -45 line of the 500 hPa scale

MONO = "DejaVu Sans Mono"
GRID = "#c0c0c0"


def px(x):
    return (x - 50) / 640


def py(y):
    return (600 - y) / 600


rr_perts = [[0] * len(HOURS) for _ in range(50)]
for m, steps in RR_PEAKS.items():
    for s, v in steps.items():
        rr_perts[m - 1][s] = v

fig = go.Figure()


def add_member(vals, color, base=0.0):
    fig.add_trace(go.Scatter(
        x=HOURS, y=[base + v / 10 for v in vals], mode="lines+markers",
        line=dict(color=color, width=1),
        marker=dict(symbol="cross-thin", size=4, line=dict(color=color, width=1)),
        hoverinfo="skip", showlegend=False,
    ))


for k in range(50):
    add_member(T850_PERTS[k], PERT_COLORS[k])
    add_member(T500_PERTS[k], PERT_COLORS[k])
    add_member(rr_perts[k], PERT_COLORS[k], RR_BASE)

for vals, base in [(T850_CTL, 0.0), (T500_CTL, 0.0), (RR_CTL, RR_BASE)]:
    fig.add_trace(go.Scatter(x=HOURS, y=[base + v / 10 for v in vals], mode="lines",
                             line=dict(color="black", width=4), hoverinfo="skip", showlegend=False))
for vals, base in [(T850_MEAN, 0.0), (T500_MEAN, 0.0), (RR_MEAN, RR_BASE)]:
    fig.add_trace(go.Scatter(x=HOURS, y=[base + v / 10 for v in vals], mode="lines",
                             line=dict(color="#ff0000", width=4), hoverinfo="skip", showlegend=False))

ann = []
# axis labels
for v, r in zip(LEFT_TICKS, RIGHT_LABELS):
    ann.append(dict(x=px(20), y=v, xref="paper", yref="y", text=str(v), xanchor="left",
                    yanchor="middle", showarrow=False, font=dict(size=10)))
    ann.append(dict(x=px(708), y=v, xref="paper", yref="y", text=r, xanchor="left",
                    yanchor="middle", showarrow=False, font=dict(size=10)))
for h, lab in zip(DAY_HOURS, DAY_LABELS):
    ann.append(dict(x=h + 3.2, y=py(615), xref="x", yref="paper", text=lab, textangle=-90,
                    xanchor="center", yanchor="middle", showarrow=False, font=dict(size=9)))

texts = [
    ("Temp. 850hPa", 60, 65, "left", 10),
    ("Temp. 500hPa", 60, 263, "left", 10),
    ("Précipitations", 60, 532, "left", 10),
    ("(°C)", 20, 606, "left", 10),
    ("(mm)", 711, 606, "left", 10),
    ("Moyenne des scénarios", 73, 638, "left", 10),
    ("Contrôle/Det", 265, 638, "left", 10),
    ("50 Perts.", 421, 652, "right", 10),
    ("<b>Diagramme ensembles ECMWF/CEP 0.25° sur 360h : 40.6N 22.9E</b>", 30, 677, "left", 11.5),
    ("Températures 850hPa et 500hPa (°C) , précipitations (mm)", 30, 691, "left", 10),
    ("Ensemble ECMWF/CEP du 26/08/2026 - 12Z", 450, 676, "left", 10),
    ("<b>Copyright 2026 Meteociel.fr - ECMWF</b>", 450, 692, "left", 11.5),
]
for t, x, y, anc, sz in texts:
    ann.append(dict(x=px(x), y=py(y), xref="paper", yref="paper", text=t, xanchor=anc,
                    yanchor="middle", showarrow=False, font=dict(size=sz)))

shapes = []
# double line at zero
for dy in (0.15, -0.15):
    shapes.append(dict(type="line", xref="x", yref="y", x0=0, x1=360, y0=dy, y1=dy,
                       line=dict(color="#9a9a9a", width=1), layer="below"))
# legend lines
shapes.append(dict(type="line", xref="paper", yref="paper", x0=px(35), x1=px(65), y0=py(638), y1=py(638),
                   line=dict(color="#ff0000", width=4)))
shapes.append(dict(type="line", xref="paper", yref="paper", x0=px(225), x1=px(257), y0=py(638), y1=py(638),
                   line=dict(color="black", width=4)))
# member colour chips
for k in range(25):
    x0 = 430 + 10.95 * k
    for row, (y0, y1) in enumerate([(644.5, 651), (651, 657.5)]):
        shapes.append(dict(type="rect", xref="paper", yref="paper", x0=px(x0), x1=px(x0 + 10.6),
                           y0=py(y1), y1=py(y0), line=dict(width=0),
                           fillcolor=PERT_COLORS[k + 25 * row]))
    ann.append(dict(x=px(x0 + 5.3), y=py(639.5), xref="paper", yref="paper", text=f"{k + 1:02d}",
                    showarrow=False, font=dict(size=8), xanchor="center", yanchor="middle"))
    ann.append(dict(x=px(x0 + 5.3), y=py(663), xref="paper", yref="paper", text=f"{k + 26:02d}",
                    showarrow=False, font=dict(size=8), xanchor="center", yanchor="middle"))
# title box
shapes.append(dict(type="rect", xref="paper", yref="paper", x0=px(20), x1=px(443), y0=py(698), y1=py(668),
                   line=dict(color="black", width=1)))

fig.update_layout(
    width=740, height=700,
    margin=dict(l=50, r=50, t=0, b=100),
    paper_bgcolor="white", plot_bgcolor="white",
    font=dict(family=MONO, size=10, color="black"),
    showlegend=False,
    xaxis=dict(range=[0, 360], tickvals=DAY_HOURS, showticklabels=False, ticks="",
               showgrid=True, gridcolor=GRID, gridwidth=2, zeroline=False,
               showline=True, linecolor="black", linewidth=2),
    yaxis=dict(range=[-369 / 7, 33], tickvals=[30, 20, 10, -10, -20, -30, -40], showticklabels=False,
               ticks="", showgrid=True, gridcolor=GRID, gridwidth=2, zeroline=False,
               minor=dict(tickvals=[25, 15, 5, -5, -15, -25, -35, -45], showgrid=True,
                          gridcolor=GRID, gridwidth=1, ticks=""),
               showline=True, mirror=True, linecolor="black", linewidth=2),
    annotations=ann,
    shapes=shapes,
)

fig.write_html("out.html", config={"displayModeBar": False},
               post_script="document.body.style.margin='0';")
